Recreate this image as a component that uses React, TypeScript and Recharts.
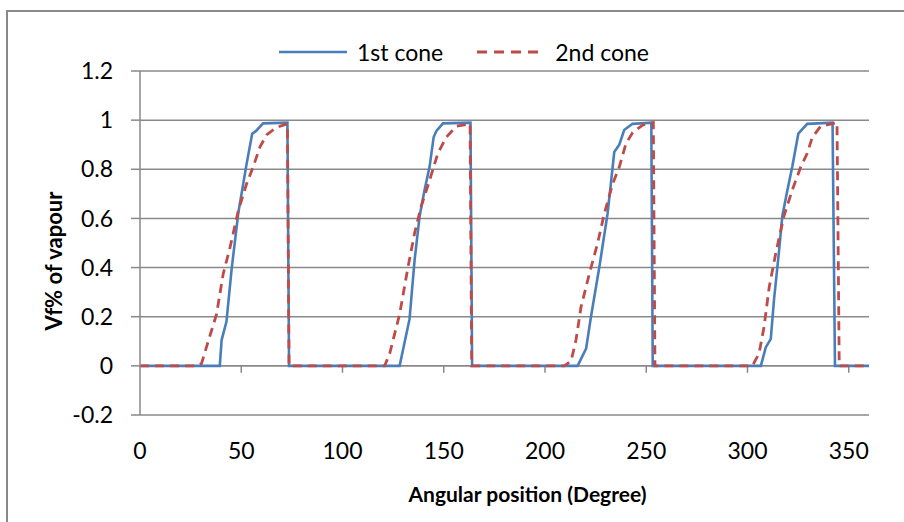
import React from "react";
import {
  LineChart,
  Line,
  XAxis,
  YAxis,
  CartesianGrid,
  Legend,
  ReferenceLine,
  Label,
} from "recharts";

// angular position (deg) and vapour fraction
const cone1X = [
  0, 39.4, 40.3, 42.7, 45.2, 48.5, 52.6, 55.4, 57.2, 60.8, 72.8, 73.6,
  128.2, 133.1, 135.6, 138.1, 140.5, 143, 145, 146.3, 149.6, 163.2, 164,
  216.1, 220.3, 222.7, 226.8, 230.9, 232.5, 234.2, 236.7, 239.1, 243.2, 252.5, 253.2,
  306.6, 309, 311.5, 313.1, 315.6, 317.2, 319.7, 322.1, 325.1, 329.5, 342, 343.2, 360,
];
const cone1Y = [
  0, 0, 0.105, 0.18, 0.39, 0.62, 0.82, 0.945, 0.955, 0.987, 0.99, 0,
  0, 0.19, 0.43, 0.61, 0.715, 0.81, 0.93, 0.955, 0.987, 0.99, 0,
  0, 0.07, 0.2, 0.4, 0.62, 0.74, 0.87, 0.9, 0.96, 0.985, 0.99, 0,
  0, 0.075, 0.11, 0.27, 0.47, 0.61, 0.715, 0.81, 0.945, 0.985, 0.99, 0, 0,
];
const cone2X = [
  0, 27, 30.4, 33.7, 37.8, 41.1, 44.4, 48.5, 52.6, 55.9, 59.2, 62.5, 67.4, 72.8, 73.6,
  120.8, 123.3, 128.2, 132.3, 135.6, 138.9, 143, 147.1, 151.2, 156.2, 163, 163.8,
  209.6, 212.9, 215.3, 217.8, 221.9, 226, 229.3, 233.4, 236.7, 240, 243.3, 248.2, 253.5, 254.3,
  302.4, 305.7, 308.2, 310.7, 314, 318, 322.1, 326.3, 329.5, 332, 336.1, 344.2, 345.3, 360,
];
const cone2Y = [
  0, 0, 0.01, 0.1, 0.21, 0.375, 0.48, 0.63, 0.74, 0.81, 0.89, 0.94, 0.97, 0.985, 0,
  0, 0.05, 0.21, 0.4, 0.54, 0.65, 0.755, 0.865, 0.93, 0.975, 0.985, 0,
  0, 0.02, 0.105, 0.24, 0.375, 0.5, 0.62, 0.74, 0.81, 0.905, 0.95, 0.98, 0.99, 0,
  0, 0.05, 0.16, 0.32, 0.46, 0.61, 0.715, 0.81, 0.865, 0.93, 0.975, 0.99, 0, 0,
];

const xTicks = [0, 50, 100, 150, 200, 250, 300, 350];
const yTicks = [-0.2, 0, 0.2, 0.4, 0.6, 0.8, 1, 1.2];
const seriesNames = ["1st cone", "2nd cone"];

const BLUE = "#4A7EBB";
const RED = "#BE4B48";
const GRID = "#898989";
const FONT = "Lato, 'Noto Sans', sans-serif";

const cone1 = cone1X.map((x, i) => ({ x, y: cone1Y[i] }));
const cone2 = cone2X.map((x, i) => ({ x, y: cone2Y[i] }));

const LegendBox = () => (
  <div style={{ display: "flex", alignItems: "center", fontFamily: FONT, fontSize: 23, color: "#000" }}>
    <svg width={70} height={10}>
      <line x1={0} y1={5} x2={68} y2={5} stroke={BLUE} strokeWidth={2.6} />
    </svg>
    <span style={{ marginLeft: 8 }}>{seriesNames[0]}</span>
    <svg width={70} height={10} style={{ marginLeft: 34 }}>
      <line x1={0} y1={5} x2={68} y2={5} stroke={RED} strokeWidth={2.8} strokeDasharray="10 7" />
    </svg>
    <span style={{ marginLeft: 8 }}>{seriesNames[1]}</span>
  </div>
);

const YTitle = ({ viewBox }: any) => {
  const cx = viewBox.x + 53;
  const cy = 261;
  return (
    <text
      x={cx}
      y={cy}
      transform={`rotate(-90 ${cx} ${cy})`}
      textAnchor="middle"
      dominantBaseline="central"
      fontFamily={FONT}
      fontWeight="bold"
      fontSize={22}
      fill="#000"
    >
      Vf% of vapour
    </text>
  );
};

const XTitle = ({ viewBox }: any) => (
  <text
    x={viewBox.x + viewBox.width / 2 + 23}
    y={viewBox.y + 78}
    textAnchor="middle"
    dominantBaseline="central"
    fontFamily={FONT}
    fontWeight="bold"
    fontSize={21}
    fill="#000"
  >
    Angular position (Degree)
  </text>
);

export default function App() {
  return (
    <div style={{ position: "absolute", left: 0, top: 0, width: 904, height: 522, overflow: "hidden", background: "#fff" }}>
      <div
        style={{
          position: "absolute",
          left: 6,
          top: 10,
          width: 1000,
          height: 1000,
          border: `2px solid ${GRID}`,
          pointerEvents: "none",
        }}
      />
      <LineChart width={904} height={522} margin={{ top: 71, right: 35, bottom: 47, left: 0 }}>
        <CartesianGrid vertical={false} stroke={GRID} strokeWidth={1.5} />
        <XAxis
          type="number"
          dataKey="x"
          domain={[0, 360]}
          ticks={xTicks}
          allowDataOverflow
          axisLine={false}
          tickLine={false}
          tickSize={0}
          tickMargin={28}
          height={60}
          tick={{ fontFamily: FONT, fontSize: 23, fill: "#000" }}
        >
          <Label content={<XTitle />} />
        </XAxis>
        <YAxis
          type="number"
          domain={[-0.2, 1.2]}
          ticks={yTicks}
          width={140}
          axisLine={{ stroke: GRID, strokeWidth: 1.5 }}
          tickLine={{ stroke: GRID, strokeWidth: 1.5 }}
          tickSize={9}
          tickMargin={18}
          tick={{ fontFamily: FONT, fontSize: 23, fill: "#000" }}
        >
          <Label content={<YTitle />} />
        </YAxis>
        <ReferenceLine y={0} stroke={GRID} strokeWidth={1.5} />
        {xTicks.slice(1).map((t) => (
          <ReferenceLine
            key={t}
            segment={[{ x: t, y: 0 }, { x: t, y: -0.028 }]}
            stroke={GRID}
            strokeWidth={1.5}
          />
        ))}
        <Legend
          layout="vertical"
          align="center"
          verticalAlign="middle"
          wrapperStyle={{ top: 38, left: 279, width: 500, height: 30 }}
          content={<LegendBox />}
        />
        <Line
          data={cone1}
          dataKey="y"
          name={seriesNames[0]}
          type="linear"
          stroke={BLUE}
          strokeWidth={2.6}
          dot={false}
          activeDot={false}
          isAnimationActive={false}
        />
        <Line
          data={cone2}
          dataKey="y"
          name={seriesNames[1]}
          type="linear"
          stroke={RED}
          strokeWidth={2.8}
          strokeDasharray="9 6"
          dot={false}
          activeDot={false}
          isAnimationActive={false}
        />
      </LineChart>
    </div>
  );
}
